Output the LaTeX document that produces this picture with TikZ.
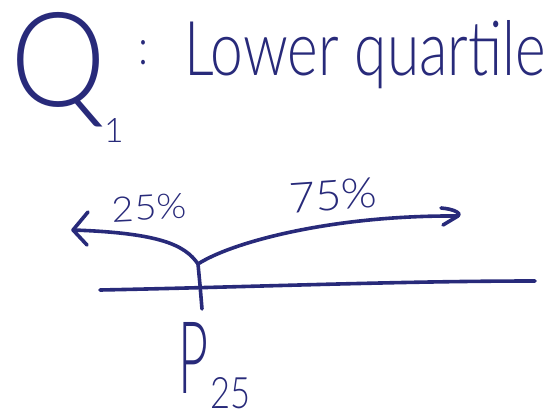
\documentclass[tikz,border=0pt]{standalone}
\usepackage{fontspec}
\usepackage{graphicx}
\setmainfont{Lato Light}
\definecolor{ink}{RGB}{40,42,122}
\begin{document}
\begin{tikzpicture}[x=1pt,y=-1pt,
  pen/.style={draw=ink,line width=3.6pt,line cap=round,line join=round},
  txt/.style={text=ink,inner sep=0pt,outer sep=0pt,anchor=base west}]
\useasboundingbox (0,0) rectangle (558,416);
% title
\node[txt] (q) at (10,106) {\resizebox{96pt}{94pt}{Q}};
\node[txt] (q1) at (104,142) {\resizebox{!}{24pt}{1}};
\node[txt] (colon) at (138,64) {\resizebox{10pt}{24pt}{:}};
\node[txt] (lq) at (184,75) {\resizebox{362pt}{55pt}{Lower quartile}};
% diagram
\coordinate (j) at (198,264);
\coordinate (lt) at (73,230);
\coordinate (rt) at (458,216);
\coordinate (vb) at (202,309);
\coordinate (hl) at (100,290);
\coordinate (hr) at (535,281);
\draw[pen] (hl) .. controls (250,287) and (400,281) .. (hr);
\draw[pen] (j) -- (200,285) -- (vb);
\draw[pen] (j) .. controls (185,245) and (160,233) .. (lt);
\draw[pen] (88,212) -- (lt) -- (87,245);
\draw[pen] (j) .. controls (230,243) and (330,215) .. (rt);
\draw[pen] (441,208) .. controls (455,209) and (462,214) .. (rt) -- (443,225);
\node[txt,rotate=3] (p25) at (113,222) {\resizebox{74pt}{25pt}{25\%}};
\node[txt,rotate=4] (p75) at (290,213) {\resizebox{88pt}{30pt}{75\%}};
\node[txt] (P) at (178,393) {\resizebox{30pt}{71pt}{P}};
\node[txt] (P25) at (210,408) {\resizebox{40pt}{31pt}{25}};
\end{tikzpicture}
\end{document}
